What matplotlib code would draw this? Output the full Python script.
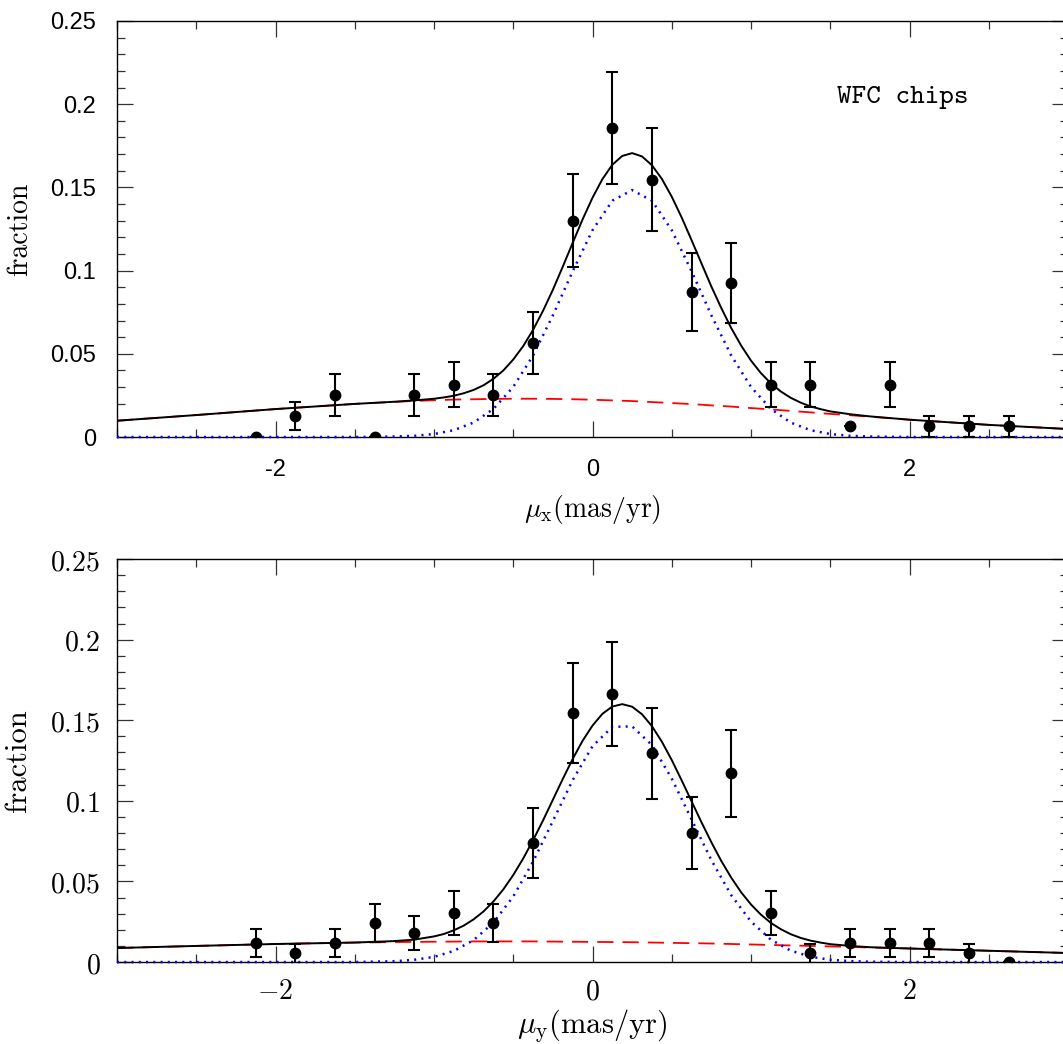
import matplotlib
matplotlib.use("Agg")
import matplotlib.pyplot as plt
from matplotlib.ticker import MultipleLocator, FixedLocator

plt.rcParams["mathtext.fontset"] = "cm"

# bin centres of the proper-motion histograms (mas/yr)
bin_x = [-2.125, -1.875, -1.625, -1.375, -1.125, -0.875, -0.625, -0.375, -0.125, 0.125,
         0.375, 0.625, 0.875, 1.125, 1.375, 1.625, 1.875, 2.125, 2.375, 2.625]

# mu_x histogram
frac_mx = [0, 0.0126, 0.0252, 0, 0.0252, 0.0315, 0.0252, 0.0566, 0.1300, 0.1855,
           0.1545, 0.0870, 0.0925, 0.0315, 0.0315, 0.0066, 0.0315, 0.0066, 0.0066, 0.0066]
err_mx = [0, 0.0083, 0.0124, 0, 0.0124, 0.0135, 0.0124, 0.0186, 0.0280, 0.0337,
          0.0310, 0.0235, 0.0240, 0.0135, 0.0135, 0, 0.0135, 0.0063, 0.0063, 0.0063]

# mu_y histogram
frac_my = [0.0118, 0.0056, 0.0118, 0.0242, 0.0180, 0.0304, 0.0242, 0.0738, 0.1545, 0.1663,
           0.1296, 0.0800, 0.1172, 0.0304, 0.0056, 0.0118, 0.0118, 0.0118, 0.0056, 0]
err_my = [0.0087, 0.0059, 0.0087, 0.0118, 0.0105, 0.0137, 0.0118, 0.0215, 0.0310, 0.0320,
          0.0283, 0.0223, 0.0270, 0.0137, 0.0059, 0.0087, 0.0087, 0.0087, 0.0059, 0]

# fitted model curves
# field (red dashed) and cluster (blue dotted) components
curve_x = [-3, -2.5, -2, -1.5, -1.25, -1.125, -1, -0.875, -0.75, -0.625, -0.5, -0.375,
           -0.25, -0.125, 0, 0.125, 0.25, 0.375, 0.5, 0.625, 0.75, 0.875, 1, 1.125,
           1.25, 1.375, 1.5, 1.625, 1.75, 2, 2.5, 3]

field_mx = [.0098, .0132, .0168, .0199, .0211, .0217, .0221, .0225, .0227, .0229, .0230, .0230,
            .0229, .0227, .0224, .0220, .0216, .0210, .0204, .0198, .0190, .0183, .0174, .0166,
            .0157, .0148, .0139, .0131, .0122, .0104, .0073, .0048]
cluster_mx = [0, 0, 0, 0, .0003, .0007, .0018, .0041, .0087, .0169, .0301, .0490,
              .0731, .0996, .1243, .1420, .1484, .1420, .1243, .0996, .0731, .0490, .0301, .0169,
              .0087, .0041, .0018, .0007, .0003, 0, 0, 0]

field_my = [.0087, .0100, .0112, .0121, .0124, .0125, .0126, .0127, .0128, .0128, .0128, .0128,
            .0127, .0126, .0125, .0124, .0123, .0121, .0119, .0117, .0115, .0112, .0109, .0106,
            .0103, .0100, .0097, .0094, .0090, .0084, .0070, .0056]
cluster_my = [0, 0, 0, 0, .0005, .0014, .0032, .0069, .0136, .0245, .0407, .0623,
              .0875, .1129, .1339, .1459, .1462, .1346, .1138, .0885, .0632, .0415, .0251, .0139,
              .0071, .0033, .0014, .0006, .0002, 0, 0, 0]

# total fit (black solid), sampled more finely around the peak
total_x = [-3, -2.5, -2, -1.5, -1.25, -1.125,
           -1.0, -0.9375, -0.875, -0.8125, -0.75, -0.6875, -0.625, -0.5625, -0.5, -0.4375,
           -0.375, -0.3125, -0.25, -0.1875, -0.125, -0.0625, 0, 0.0625, 0.125, 0.1875,
           0.25, 0.3125, 0.375, 0.4375, 0.5, 0.5625, 0.625, 0.6875, 0.75, 0.8125,
           0.875, 0.9375, 1.0, 1.0625, 1.125, 1.1875, 1.25, 1.3125, 1.375, 1.4375, 1.5,
           1.625, 1.75, 2, 2.5, 3]

total_mx = [.0098, .0132, .0168, .0199, .0212, .0220,
            .0230, .0238, .0248, .0263, .0283, .0311, .0350, .0400, .0466, .0546,
            .0644, .0758, .0885, .1024, .1167, .1308, .1438, .1550, .1636, .1689,
            .1706, .1686, .1633, .1551, .1444, .1319, .1183, .1043, .0904, .0775,
            .0655, .0550, .0459, .0384, .0323, .0274, .0236, .0207, .0184, .0168, .0154,
            .0137, .0124, .0104, .0073, .0048]

total_my = [.0087, .0100, .0112, .0121, .0130, .0139,
            .0159, .0174, .0197, .0226, .0265, .0314, .0376, .0451, .0540, .0642,
            .0756, .0878, .1007, .1136, .1260, .1373, .1467, .1540, .1585, .1600,
            .1584, .1537, .1463, .1367, .1253, .1127, .0997, .0867, .0743, .0627,
            .0524, .0433, .0357, .0294, .0243, .0204, .0173, .0150, .0133, .0121, .0111,
            .0100, .0092, .0084, .0070, .0056]

ytick_vals = [0, 0.05, 0.1, 0.15, 0.2, 0.25]
ytick_text = ["0", "0.05", "0.1", "0.15", "0.2", "0.25"]
xtick_vals = [-2, 0, 2]
xtick_text = ["-2", "0", "2"]


def draw_panel(ax, frac, err, field, cluster, total):
    ax.plot(curve_x, field, color="red", lw=1.3, dashes=(9, 5))
    ax.plot(curve_x, cluster, color="blue", lw=1.8, ls=(0, (0.8, 2.1)), clip_on=False, zorder=3)
    ax.plot(total_x, total, color="black", lw=1.4)
    ax.errorbar(bin_x, frac, yerr=err, fmt="o", color="black", ms=7.5,
                elinewidth=1.5, capsize=4.2, capthick=1.5, zorder=4)
    ax.set_xlim(-3, 3)
    ax.set_ylim(0, 0.25)
    ax.xaxis.set_major_locator(FixedLocator(xtick_vals))
    ax.xaxis.set_minor_locator(MultipleLocator(0.5))
    ax.yaxis.set_major_locator(FixedLocator(ytick_vals))
    ax.yaxis.set_minor_locator(MultipleLocator(0.01))
    ax.tick_params(which="both", direction="in", top=True, right=True, width=0.9, color="#333333")
    ax.tick_params(which="major", length=11.5)
    ax.tick_params(which="minor", length=5.8)
    for s in ax.spines.values():
        s.set_linewidth(1.0)


fig = plt.figure(figsize=(10.63, 10.44), dpi=100)
ax1 = fig.add_axes([0.1101, 0.5814, 0.8946, 0.3985])
ax2 = fig.add_axes([0.1101, 0.0785, 0.8946, 0.3860])

draw_panel(ax1, frac_mx, err_mx, field_mx, cluster_mx, total_mx)
draw_panel(ax2, frac_my, err_my, field_my, cluster_my, total_my)

# top panel: sans tick labels with a plain hyphen
ax1.set_xticklabels(xtick_text, family="Liberation Sans", fontsize=17)
ax1.set_yticklabels(ytick_text, family="Liberation Sans", fontsize=17)
ax1.tick_params(axis="y", which="major", pad=15)
ax1.tick_params(axis="x", which="major", pad=16)

# bottom panel: serif tick labels
ax2.set_xticklabels(["$%s$" % t for t in xtick_text], fontsize=20)
ax2.set_yticklabels(["$%s$" % t for t in ytick_text], fontsize=20)
ax2.tick_params(axis="y", which="major", pad=12)
ax2.tick_params(axis="x", which="major", pad=11)

ax1.set_ylabel("fraction", family="cmr10", fontsize=20)
ax2.set_ylabel("fraction", family="cmr10", fontsize=22)
ax1.yaxis.set_label_coords(-0.088, 0.5)
ax2.yaxis.set_label_coords(-0.089, 0.5)

ax1.set_xlabel(r"$\mu_{\rm x}{\rm (mas/yr)}$", fontsize=20)
ax2.set_xlabel(r"$\mu_{\rm y}{\rm (mas/yr)}$", fontsize=22)
ax1.xaxis.set_label_coords(0.5, -0.135)
ax2.xaxis.set_label_coords(0.5, -0.112)

ax1.text(1.96, 0.204, "WFC chips", family="cmtt10", fontsize=20, ha="center", va="center")

fig.savefig("out.png", dpi=100)
